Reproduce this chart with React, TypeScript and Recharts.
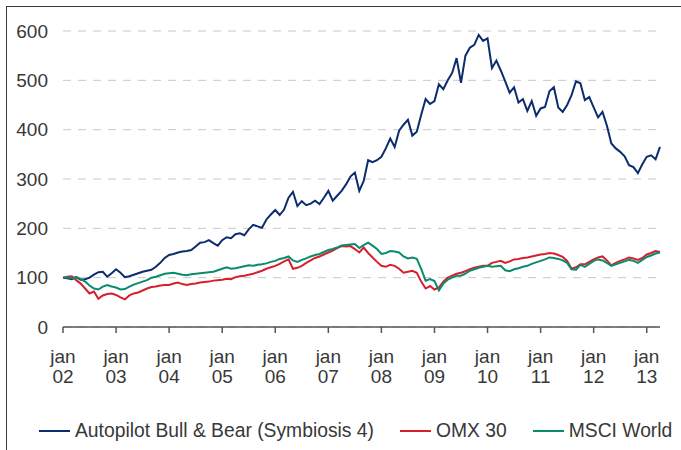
import { LineChart, Line, XAxis, YAxis, CartesianGrid } from 'recharts';

// monthly index levels, jan 2002 = 100
const bullBear = [
    100, 99, 97, 101, 96, 97, 100, 106, 111, 112, 102, 109,
    117, 110, 101, 103, 106, 109, 112, 114, 116, 122, 130, 140,
    146, 148, 151, 153, 154, 156, 163, 171, 172, 176, 170, 165,
    176, 182, 180, 188, 190, 186, 198, 207, 204, 201, 218, 228,
    237, 227, 238, 262, 274, 245, 255, 247, 250, 256, 249, 262,
    276, 256, 266, 276, 289, 305, 313, 276, 296, 338, 334, 338,
    345, 362, 382, 365, 398, 410, 420, 388, 396, 430, 462, 452,
    458, 492, 482, 500, 515, 545, 495, 550, 566, 572, 592, 580,
    585, 525, 540, 520, 498, 475, 486, 455, 462, 438, 458, 428,
    443, 446, 478, 486, 445, 436, 450, 470, 498, 494, 460, 466,
    445, 425, 436, 408, 372, 362, 355, 346, 328, 324, 312, 330,
    345, 348, 340, 365
];

const omx30 = [
    100, 102, 103, 95, 88, 78, 68, 72, 57, 64, 67, 68,
    65, 60, 56, 64, 68, 70, 74, 78, 81, 82, 84, 85,
    85, 88, 90, 87, 85, 87, 88, 90, 91, 92, 94, 95,
    96, 98, 97, 101, 103, 104, 106, 108, 111, 114, 118, 121,
    124, 128, 133, 137, 118, 120, 124, 130, 135, 140, 143, 147,
    151, 155, 160, 164, 163, 164, 158, 151, 161, 150, 141, 132,
    124, 122, 126, 124, 118, 110, 112, 114, 110, 92, 78, 83,
    76, 80, 92, 100, 104, 108, 110, 113, 117, 120, 122, 124,
    124, 130, 132, 134, 130, 133, 137, 138, 140, 141, 143, 145,
    147, 148, 150, 149, 146, 142, 134, 118, 121, 127, 127, 132,
    137, 141, 143, 135, 125, 130, 134, 137, 141, 139, 136, 140,
    147, 150, 154, 152
];

const msciWorld = [
    100, 101, 99, 101, 97, 92, 84, 78, 76, 82, 85, 82,
    80, 76, 77, 82, 86, 89, 92, 95, 100, 102, 105, 108,
    109, 110, 108, 106, 105, 107, 108, 109, 110, 111, 112, 115,
    118, 121, 118, 119, 121, 123, 125, 124, 126, 127, 129, 132,
    134, 138, 140, 143, 135, 132, 136, 139, 143, 146, 148, 152,
    156, 158, 161, 165, 166, 167, 168, 160, 166, 171, 165, 158,
    148, 150, 154, 153, 151, 143, 139, 141, 138, 118, 94, 97,
    93, 74, 88, 96, 100, 104, 104, 108, 114, 117, 120, 122,
    124, 122, 123, 124, 115, 113, 117, 119, 122, 124, 128, 131,
    134, 137, 141, 140, 138, 135, 130, 117, 116, 126, 122, 128,
    134, 137, 135, 130, 124, 127, 130, 133, 136, 134, 130, 136,
    142, 145, 149, 151
];

const yearLabels = ['02', '03', '04', '05', '06', '07', '08', '09', '10', '11', '12', '13'];
const yTicks = [0, 100, 200, 300, 400, 500, 600];

const seriesNames = ['Autopilot Bull & Bear (Symbiosis 4)', 'OMX 30', 'MSCI World'];
const colors = ['#0b2c6e', '#d7202e', '#0a8c6c'];

const chartData = bullBear.map((v, i) => ({
    t: i,
    bull: v,
    omx: omx30[i],
    msci: msciWorld[i]
}));

const FONT = '"Liberation Sans", Arial, Helvetica, sans-serif';
const TEXT = '#383838';

const YearTick = (props: any) => {
    const { x, y, payload } = props;
    const label = yearLabels[Math.round(payload.value / 12)];
    return (
        <text x={x} y={y} textAnchor="middle" fill={TEXT} fontSize={19} fontFamily={FONT}>
            <tspan x={x} dy={28}>jan</tspan>
            <tspan x={x} dy={20}>{label}</tspan>
        </text>
    );
};

export default function App() {
    return (
        <div style={{ position: 'absolute', left: 0, top: 0, width: 681, height: 450, background: '#fff', overflow: 'hidden' }}>
            <div
                style={{
                    position: 'absolute',
                    left: 6,
                    top: 6,
                    width: 700,
                    height: 470,
                    borderLeft: '1.5px solid #3a3a3a',
                    borderTop: '1.5px solid #3a3a3a'
                }}
            />
            <div style={{ position: 'absolute', left: 0, top: 0 }}>
                <LineChart width={681} height={450} data={chartData} margin={{ top: 31, right: 21, bottom: 0, left: 0 }}>
                    <CartesianGrid horizontal vertical={false} stroke="#c8c8c8" strokeDasharray="8 7" />
                    <XAxis
                        dataKey="t"
                        type="number"
                        domain={[0, 135]}
                        ticks={[0, 12, 24, 36, 48, 60, 72, 84, 96, 108, 120, 132]}
                        height={123}
                        interval={0}
                        axisLine={{ stroke: '#555', strokeWidth: 1.5 }}
                        tickLine={{ stroke: '#555', strokeWidth: 1.5 }}
                        tickSize={6}
                        tickMargin={2}
                        tick={<YearTick />}
                    />
                    <YAxis
                        domain={[0, 600]}
                        ticks={yTicks}
                        width={63}
                        axisLine={false}
                        tickLine={false}
                        tickSize={0}
                        tickMargin={15}
                        tick={{ fill: TEXT, fontSize: 19, fontFamily: FONT }}
                    />
                    <Line type="linear" dataKey="bull" stroke={colors[0]} strokeWidth={2} dot={false} isAnimationActive={false} />
                    <Line type="linear" dataKey="omx" stroke={colors[1]} strokeWidth={2} dot={false} isAnimationActive={false} />
                    <Line type="linear" dataKey="msci" stroke={colors[2]} strokeWidth={2} dot={false} isAnimationActive={false} />
                </LineChart>
            </div>
            <div
                style={{
                    position: 'absolute',
                    left: 39,
                    top: 420,
                    display: 'flex',
                    alignItems: 'center',
                    fontFamily: FONT,
                    fontSize: 19.3,
                    color: TEXT,
                    whiteSpace: 'nowrap'
                }}
            >
                {seriesNames.map((name, i) => (
                    <div key={name} style={{ display: 'flex', alignItems: 'center', marginRight: 26 }}>
                        <span style={{ display: 'inline-block', width: 31, height: 2, background: colors[i], marginRight: 5 }} />
                        <span>{name}</span>
                    </div>
                ))}
            </div>
        </div>
    );
}
